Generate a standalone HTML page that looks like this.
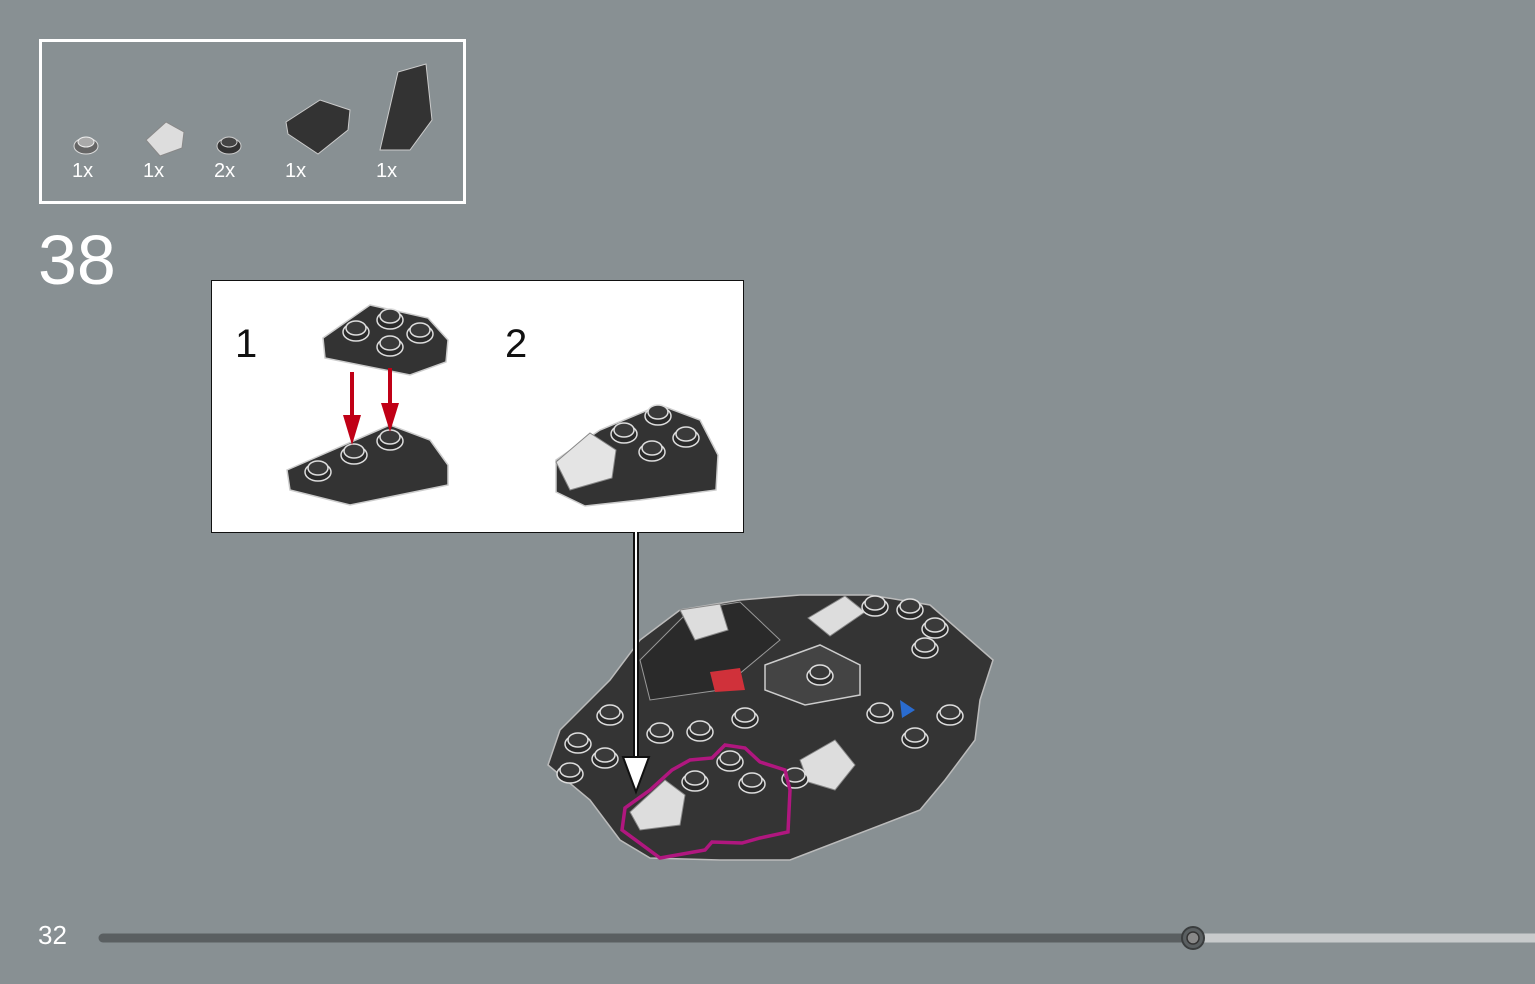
<!DOCTYPE html>
<html><head><meta charset="utf-8"><style>
html,body{margin:0;padding:0;}
body{width:1535px;height:984px;background:#889093;position:relative;overflow:hidden;font-family:"Liberation Sans",sans-serif;}
.t{position:absolute;color:#fff;}
</style></head><body>
<div style="position:absolute;left:39px;top:39px;width:421px;height:159px;border:3px solid #fff;"></div>
<div class="t" style="left:72px;top:160px;font-size:20px;">1x</div>
<div class="t" style="left:143px;top:160px;font-size:20px;">1x</div>
<div class="t" style="left:214px;top:160px;font-size:20px;">2x</div>
<div class="t" style="left:285px;top:160px;font-size:20px;">1x</div>
<div class="t" style="left:376px;top:160px;font-size:20px;">1x</div>
<div class="t" style="left:38px;top:220px;font-size:70px;font-weight:300;">38</div>
<div class="t" style="left:38px;top:920px;font-size:26px;">32</div>
<div style="position:absolute;left:211px;top:280px;width:531px;height:251px;background:#fff;border:1.5px solid #111;"></div>
<div style="position:absolute;left:235px;top:322px;font-size:40px;color:#111;">1</div>
<div style="position:absolute;left:505px;top:322px;font-size:40px;color:#111;">2</div>
<svg width="1535" height="984" style="position:absolute;left:0;top:0">
<defs>
<g id="stud"><ellipse cx="0" cy="4" rx="13" ry="9" fill="#2a2a2a" stroke="#ddd" stroke-width="1.5"/><ellipse cx="0" cy="0" rx="10" ry="7" fill="#3a3a3a" stroke="#ddd" stroke-width="1.5"/></g>
</defs>
<!-- parts -->
<g transform="translate(86,142)"><ellipse cy="4" rx="12" ry="8" fill="#666" stroke="#ddd"/><ellipse rx="8" ry="5" fill="#aaa" stroke="#eee"/></g>
<polygon points="146,140 166,122 184,132 182,148 160,156" fill="#ddd" stroke="#888"/>
<g transform="translate(229,142)"><ellipse cy="4" rx="12" ry="8" fill="#333" stroke="#ccc"/><ellipse rx="8" ry="5" fill="#444" stroke="#ccc"/></g>
<polygon points="286,122 320,100 350,110 348,130 318,154 288,134" fill="#333" stroke="#ccc"/>
<polygon points="380,150 398,72 426,64 432,120 410,150" fill="#333" stroke="#ccc"/>
<!-- step 1 -->
<polygon points="323,338 370,305 428,318 448,340 446,362 410,375 325,358" fill="#333" stroke="#ccc" stroke-width="1.5"/>
<use href="#stud" x="356" y="328"/><use href="#stud" x="390" y="316"/><use href="#stud" x="390" y="343"/><use href="#stud" x="420" y="330"/>
<polygon points="287,470 390,425 430,440 448,465 448,485 350,505 290,490" fill="#333" stroke="#ccc" stroke-width="1.5"/>
<use href="#stud" x="318" y="468"/><use href="#stud" x="354" y="451"/><use href="#stud" x="390" y="437"/>
<line x1="352" y1="372" x2="352" y2="420" stroke="#c00016" stroke-width="4"/><polygon points="343,415 361,415 352,445" fill="#c00016"/>
<line x1="390" y1="368" x2="390" y2="408" stroke="#c00016" stroke-width="4"/><polygon points="381,403 399,403 390,432" fill="#c00016"/>
<!-- step 2 -->
<polygon points="556,460 600,430 660,405 700,420 718,455 716,490 640,500 585,506 556,492" fill="#333" stroke="#ccc" stroke-width="1.5"/>
<polygon points="556,462 590,433 616,450 612,478 570,490" fill="#e4e4e4" stroke="#888"/>
<use href="#stud" x="624" y="430"/><use href="#stud" x="658" y="412"/><use href="#stud" x="686" y="434"/><use href="#stud" x="652" y="448"/>
<!-- model -->
<polygon points="548,765 560,730 610,680 640,640 680,610 740,600 800,595 870,595 930,605 993,660 980,700 975,740 945,780 920,810 790,860 720,860 650,858 620,840 590,800" fill="#343434" stroke="#bbb" stroke-width="1.5"/>
<polygon points="640,660 690,610 740,602 780,640 720,690 650,700" fill="#2a2a2a" stroke="#999"/>
<polygon points="765,665 820,645 860,665 860,695 805,705 765,690" fill="#444" stroke="#ccc" stroke-width="1.5"/>
<polygon points="710,672 740,668 745,690 715,692" fill="#d0313a"/>
<polygon points="900,700 915,710 902,718" fill="#2a6cd0"/>
<polygon points="680,610 720,604 728,630 695,640" fill="#ddd" stroke="#888"/>
<polygon points="808,618 845,596 865,612 830,636" fill="#ddd" stroke="#888"/>
<polygon points="800,760 835,740 855,765 835,790 808,782" fill="#ddd" stroke="#888"/>
<polygon points="630,812 665,780 685,795 680,825 640,830" fill="#ddd" stroke="#888"/>
<g>
<use href="#stud" x="820" y="672"/><use href="#stud" x="875" y="603"/><use href="#stud" x="910" y="606"/><use href="#stud" x="935" y="625"/><use href="#stud" x="925" y="645"/>
<use href="#stud" x="610" y="712"/><use href="#stud" x="578" y="740"/><use href="#stud" x="605" y="755"/><use href="#stud" x="660" y="730"/><use href="#stud" x="700" y="728"/>
<use href="#stud" x="745" y="715"/><use href="#stud" x="880" y="710"/><use href="#stud" x="950" y="712"/><use href="#stud" x="915" y="735"/>
<use href="#stud" x="730" y="758"/><use href="#stud" x="695" y="778"/><use href="#stud" x="752" y="780"/><use href="#stud" x="795" y="775"/>
<use href="#stud" x="570" y="770"/>
</g>
<path d="M622,830 L625,808 L650,790 L672,770 L690,760 L712,758 L725,745 L745,748 L760,762 L785,770 L790,790 L788,832 L760,838 L742,843 L712,842 L705,850 L660,858 Z" fill="none" stroke="#b0177f" stroke-width="3.5"/>
<!-- arrow -->
<line x1="636" y1="532" x2="636" y2="760" stroke="#111" stroke-width="6"/>
<line x1="636" y1="532" x2="636" y2="760" stroke="#fff" stroke-width="2"/>
<polygon points="623,757 649,757 636,792" fill="#fff" stroke="#111" stroke-width="2"/>
<!-- progress -->
<line x1="103" y1="938" x2="1193" y2="938" stroke="#5a5f61" stroke-width="9" stroke-linecap="round"/>
<line x1="1193" y1="938" x2="1535" y2="938" stroke="#c8cbcc" stroke-width="9"/>
<circle cx="1193" cy="938" r="11" fill="#5a5f61" stroke="#3a3d3e" stroke-width="2"/>
<circle cx="1193" cy="938" r="6" fill="#888" stroke="#333" stroke-width="1.5"/>
</svg>
</body></html>
